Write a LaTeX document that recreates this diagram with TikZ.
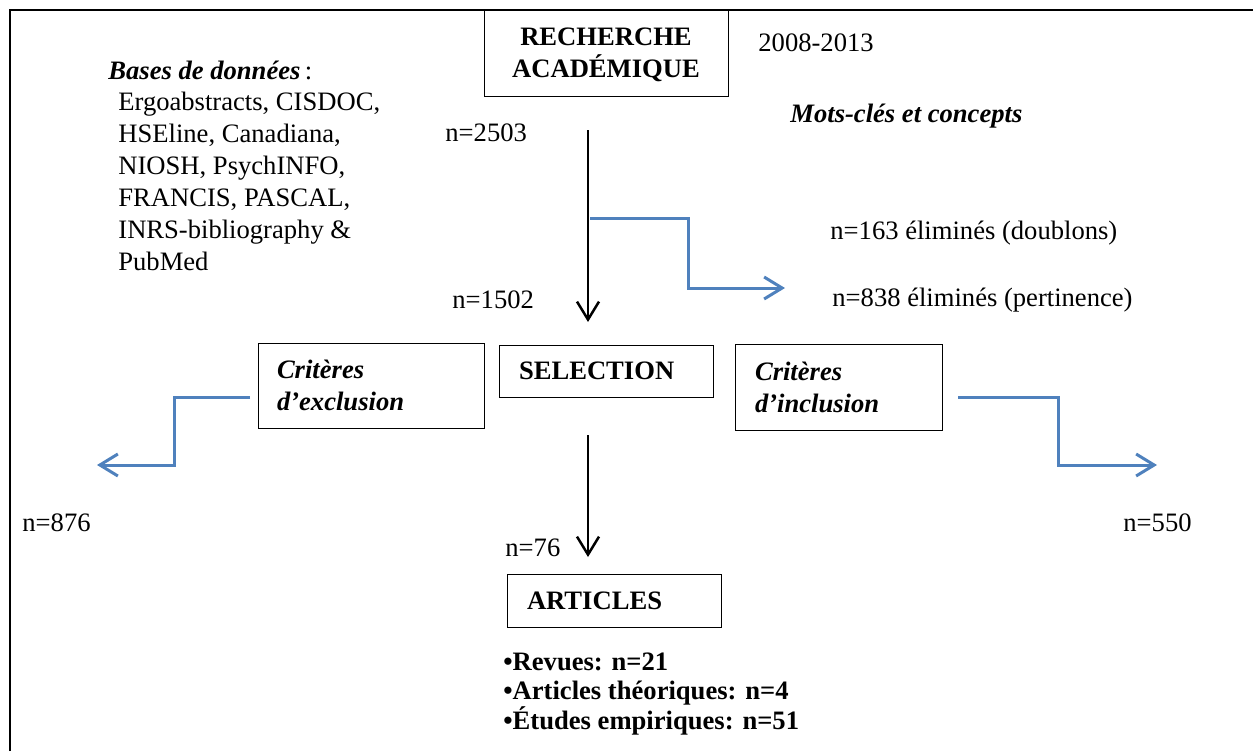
\documentclass[tikz,border=0pt]{standalone}
\usepackage{fontspec}
\setmainfont{Liberation Serif}
\usetikzlibrary{arrows.meta,positioning}

\definecolor{accent}{HTML}{4F81BD}
\newcommand{\bodysize}{\fontsize{13.3}{16}\selectfont}

\begin{document}
\begin{tikzpicture}[
      x=0.5pt, y=-0.5pt, font=\bodysize,
      box/.style={draw, line width=0.5pt, inner ysep=0pt},
      txt/.style={anchor=west, inner sep=0pt, align=left, yshift=-1.5pt},
      hdr/.style={font=\bodysize\bfseries},
      crit/.style={font=\bodysize\bfseries\itshape},
      downarr/.style={-{Straight Barb[length=9pt,width=11pt]}, line width=1.25pt},
      sidearr/.style={-{Straight Barb[length=9pt,width=11pt]}, line width=1.5pt, draw=accent},
    ]
    \useasboundingbox (0,0) rectangle (1253,751);
    \draw[line width=1.2pt] (10,751) -- (10,10) -- (1253,10);

    % search
    \node[box, minimum width=122pt, minimum height=43pt] (rech) at (606,53) {};
    \node[hdr, align=center, inner sep=0pt] (rechtxt) at (606,55) {RECHERCHE\\ACADÉMIQUE};
    \node[txt] (years) at (758,40) {2008-2013};
    \node[txt] (bases) at (108,67) {\textbf{\textit{Bases de données}}\,:};
    \node[txt, anchor=north west] (dbs) at (118,89) {Ergoabstracts, CISDOC,\\HSEline, Canadiana,\\NIOSH, PsychINFO,\\FRANCIS, PASCAL,\\INRS-bibliography \&\\PubMed};
    \node[txt, crit] (mots) at (790,113) {Mots-clés et concepts};
    \node[txt] (n2503) at (445,130) {n=2503};
    \node[txt] (dbl) at (830,230) {n=163 éliminés (doublons)};
    \node[txt] (pert) at (832,297) {n=838 éliminés (pertinence)};
    \node[txt] (n1502) at (452,297) {n=1502};

    % selection
    \node[box, crit, align=left, inner xsep=9.5pt, text width=94pt, minimum height=42.5pt] (excl) at (371,385.5) {Critères\\d’exclusion};
    \node[box, hdr, align=left, inner xsep=10pt, text width=87pt, minimum height=26pt] (sel) at (606,371) {SELECTION};
    \node[box, crit, align=left, inner xsep=10pt, text width=83.5pt, minimum height=43pt] (incl) at (838.5,387) {Critères\\d’inclusion};
    \node[txt] (n876) at (22,520) {n=876};
    \node[txt] (n550) at (1123,520) {n=550};
    \node[txt] (n76) at (505,545) {n=76};

    % result
    \node[box, hdr, align=left, inner xsep=10pt, text width=87pt, minimum height=26.5pt] (art) at (614,600.5) {ARTICLES};
    \node[txt, font=\fontsize{13.3}{14.8}\selectfont\bfseries] (types) at (503,691) {•Revues: n=21\\•Articles théoriques: n=4\\•Études empiriques: n=51};

    \coordinate (t1) at (588,130); \coordinate (t2) at (588,322);
    \coordinate (b1) at (590,218); \coordinate (b2) at (785,288);
    \coordinate (e1) at (250,397); \coordinate (e2) at (97,465);
    \coordinate (i1) at (958,397); \coordinate (i2) at (1157,465);
    \coordinate (s1) at (588,435); \coordinate (s2) at (588,557);
    \draw[downarr] (t1) -- (t2);
    \draw[downarr] (s1) -- (s2);
    \draw[sidearr] (b1) -- ++(98,0) |- (b2);
    \draw[sidearr] (e1) -- ++(-76,0) |- (e2);
    \draw[sidearr] (i1) -- ++(100,0) |- (i2);
  \end{tikzpicture}
\end{document}
